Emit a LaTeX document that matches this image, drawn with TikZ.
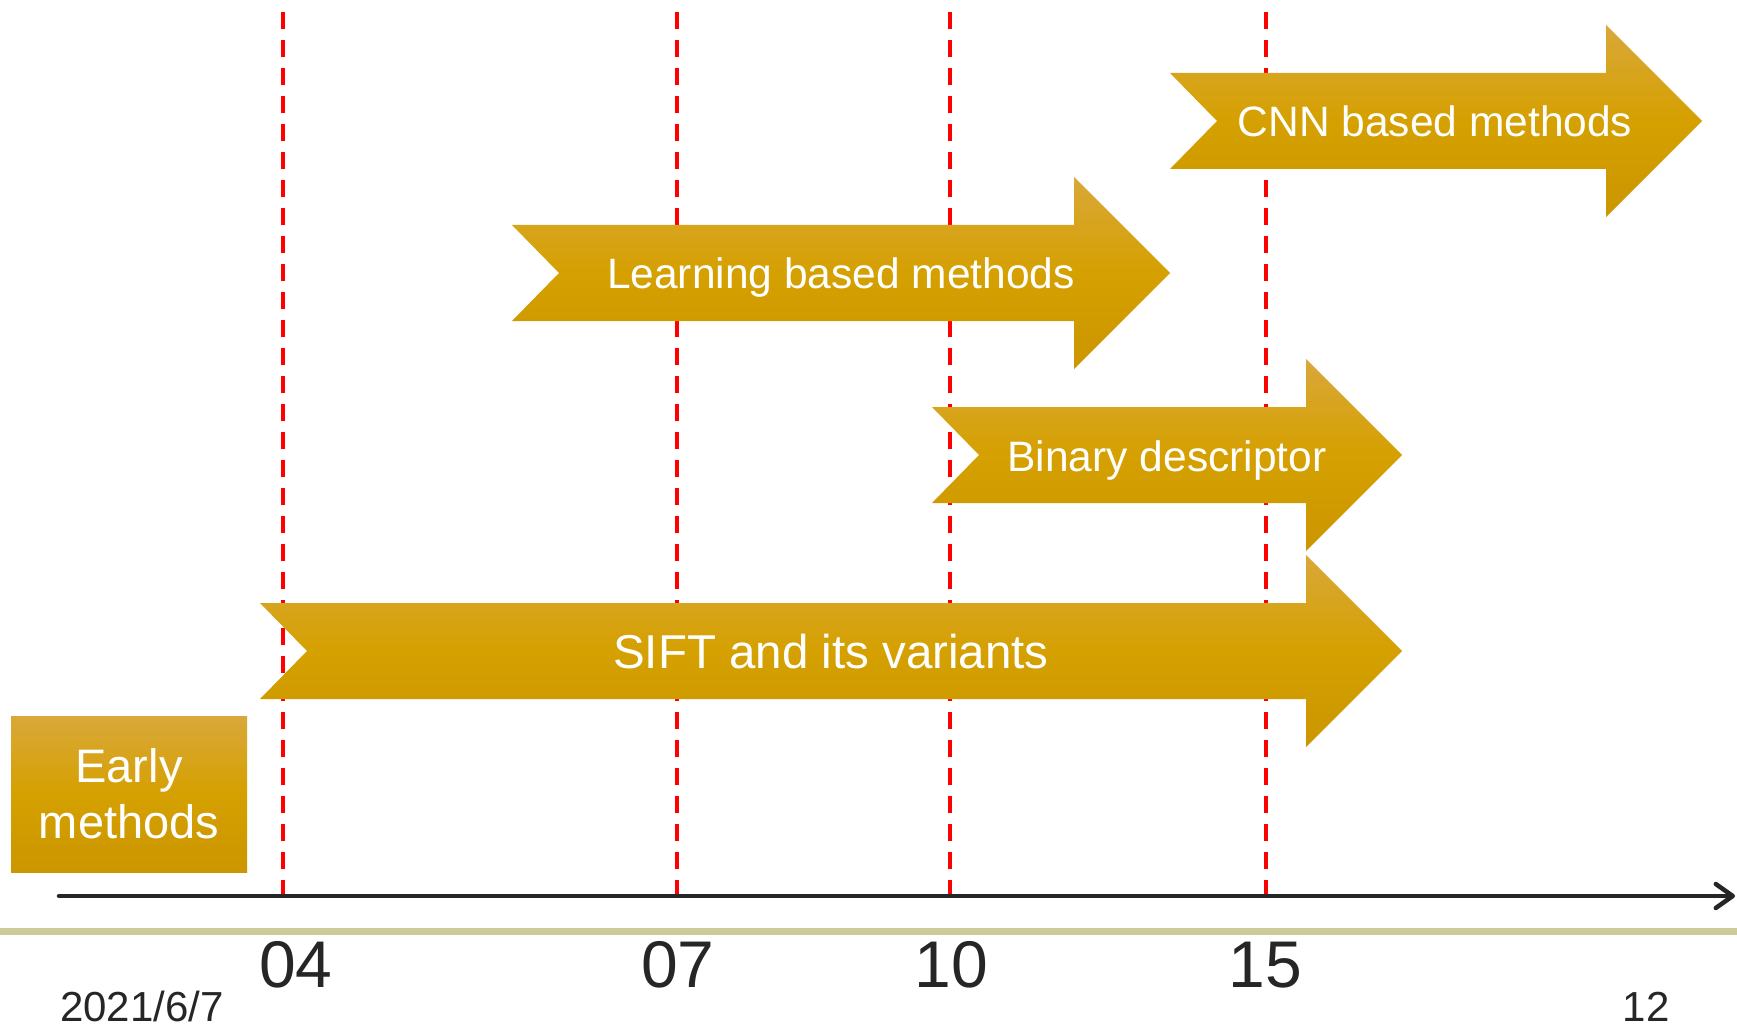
\documentclass[tikz,border=0pt]{standalone}
\usepackage{fontspec}
\setmainfont{Liberation Sans}
\usetikzlibrary{arrows.meta}

\definecolor{goldtop}{RGB}{217,168,58}
\definecolor{goldmid}{RGB}{213,160,0}
\definecolor{goldbot}{RGB}{203,150,0}
\definecolor{guide}{RGB}{255,0,0}
\definecolor{rule}{RGB}{204,204,153}
\definecolor{ink}{RGB}{38,38,38}

% ribbon arrow: #1 left x, #2 middle y, #3 head base x, #4 tip x
\newcommand\ribbonshape[4]{%
  \path[goldfill]
    ({#1},{#2-48}) -- ({#3},{#2-48}) -- ({#3},{#2-96}) -- ({#4},{#2})
    -- ({#3},{#2+96}) -- ({#3},{#2+48}) -- ({#1},{#2+48})
    -- ({#1+47},{#2}) -- cycle;}

\begin{document}
\begin{tikzpicture}[x=1pt,y=-1pt,
  goldfill/.style={top color=goldtop, bottom color=goldbot, middle color=goldmid, draw=none},
  ribbontext/.style={text=white, anchor=base, inner sep=0pt, font=\fontsize{42.5pt}{50pt}\selectfont},
  guideline/.style={draw=guide, line width=4pt, dash pattern=on 16.7pt off 11.3pt},
  timeaxis/.style={draw=ink, line width=4.5pt, line cap=round,
    -{Straight Barb[length=17pt, width=24pt, line cap=round, line join=round]}},
  yearlabel/.style={text=ink, anchor=base, inner sep=0pt, font=\fontsize{66pt}{70pt}\selectfont},
  footlabel/.style={text=ink, anchor=base, inner sep=0pt, font=\fontsize{42pt}{46pt}\selectfont},
  earlybox/.style={goldfill, minimum width=236pt, minimum height=156pt, inner sep=0pt,
    text=white, align=center, font=\fontsize{47pt}{56pt}\selectfont},
]
\useasboundingbox[fill=white] (0,0) rectangle (1737,1024);

% red dashed guides for the years
\foreach \name/\gx in {g04/283, g07/677, g10/950, g15/1266}{
  \coordinate (\name top) at (\gx,12);
  \coordinate (\name bot) at (\gx,895);
  \draw[guideline] (\name top) -- (\name bot);
}

% ribbon arrows
\ribbonshape{1170}{121}{1606}{1702}
\ribbonshape{512}{273}{1074}{1170}
\ribbonshape{932}{455}{1306}{1402}
\ribbonshape{260}{651}{1306}{1402}

\node[ribbontext] (cnn) at (1435,137) {CNN based methods};
\node[ribbontext] (learning) at (841,288.5) {Learning based methods};
\node[ribbontext] (binary) at (1167,471) {Binary descriptor};
\node[ribbontext, font=\fontsize{47.5pt}{52pt}\selectfont] (sift) at (831,668) {SIFT and its variants};

% early methods box
\node[earlybox] (early) at (129,794) {Early\\methods};

% time axis
\coordinate (axstart) at (59,896);
\coordinate (axend) at (1735,896);
\draw[timeaxis] (axstart) -- (axend);

% separator rule
\coordinate (rulestart) at (0,931.5);
\coordinate (ruleend) at (1737,931.5);
\draw[draw=rule, line width=7pt] (rulestart) -- (ruleend);

% year labels
\node[yearlabel] (y04) at (296,987) {04};
\node[yearlabel] (y07) at (678,987) {07};
\node[yearlabel] (y10) at (951,987) {10};
\node[yearlabel] (y15) at (1265,987) {15};

% footer
\node[footlabel] (date) at (142,1021) {2021/6/7};
\node[footlabel] (page) at (1646,1021) {12};
\end{tikzpicture}
\end{document}
